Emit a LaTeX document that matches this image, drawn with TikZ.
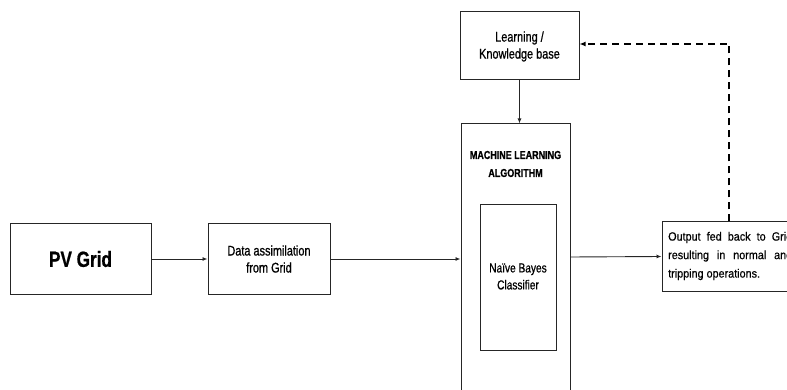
\documentclass[tikz,border=0pt]{standalone}
\usepackage{fontspec}
\setmainfont{Liberation Sans}
\newfontfamily\condfont[FakeStretch=0.78,FakeBold=0.8]{Liberation Sans}
\newfontfamily\outfont[FakeStretch=0.9,FakeBold=0.5]{Liberation Sans}
\usetikzlibrary{arrows.meta}
\begin{document}
\begin{tikzpicture}[x=1pt,y=-1pt,
  box/.style={draw=black!85, line width=1pt, inner sep=0pt, align=center},
  txt/.style={inner sep=0pt, align=center, font=\condfont\fontsize{14}{17}\selectfont},
  conn/.style={draw=black!85, line width=0.9pt, -{Latex[length=5pt,width=4pt]}},
  fb/.style={draw=black, line width=1.8pt, dash pattern=on 7pt off 5pt, -{Latex[length=6pt,width=5pt]}}]
\useasboundingbox (0,0) rectangle (787,390);
\clip (0,0) rectangle (787,390);
\node[box, minimum width=141pt, minimum height=70pt, font=\condfont\bfseries\fontsize{22}{26}\selectfont] (pv) at (80.5,259) {PV Grid};
\node[box, minimum width=122pt, minimum height=70pt] (data) at (269,259) {};
\node[txt] (datat) at (269,259) {Data assimilation\\from Grid};
\node[box, minimum width=119pt, minimum height=68pt] (learn) at (519.5,46) {};
\node[txt] (learnt) at (519.5,46.5) {Learning /\\Knowledge base};
\node[box, minimum width=109pt, minimum height=276pt] (ml) at (515.5,262) {};
\node[txt, font=\condfont\bfseries\fontsize{11.5}{18}\selectfont] (mlt) at (515.5,164) {MACHINE LEARNING\\ALGORITHM};
\node[box, minimum width=76pt, minimum height=145pt] (nb) at (518,277.5) {};
\node[txt, font=\condfont\fontsize{13}{17}\selectfont] (nbt) at (518,276.5) {Naïve Bayes\\Classifier};
\node[box, minimum width=140pt, minimum height=69pt] (out) at (732,256.5) {};
\node[inner sep=0pt, anchor=west, align=left, font=\outfont\fontsize{12}{18.5}\selectfont] (outt) at (668,256) {\makebox[124pt][s]{Output fed back to Grid}\\\makebox[124pt][s]{resulting in normal and}\\tripping operations.};
\coordinate (fbtop) at (729,44);
\draw[conn] (pv.east) -- (data.west);
\draw[conn] (data.east) -- (ml.west |- data.east);
\draw[conn] (ml.east |- 0,257) -- (out.west |- 0,256.5);
\draw[conn] (learn.south) -- (learn.south |- ml.north);
\draw[fb] (fbtop |- out.north) -- (fbtop) -- (learn.east |- fbtop);
\end{tikzpicture}
\end{document}
